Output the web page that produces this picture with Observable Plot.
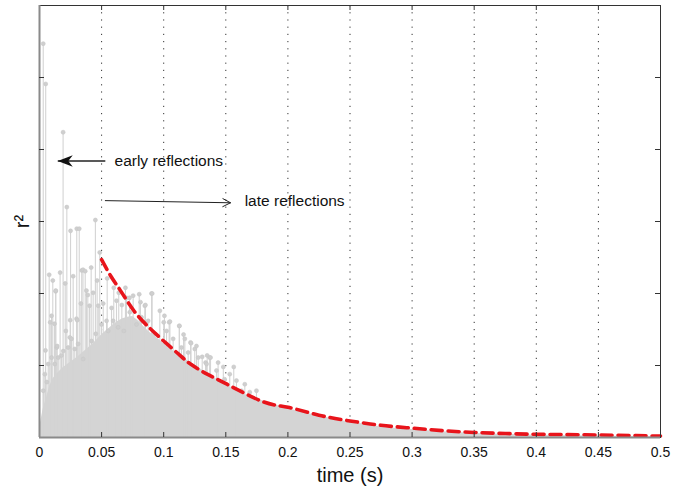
<!DOCTYPE html>
<html>
<head>
<meta charset="utf-8">
<script src="https://cdn.jsdelivr.net/npm/d3@7"></script>
<script src="https://cdn.jsdelivr.net/npm/@observablehq/plot@0.6"></script>
<style>
  html, body { margin: 0; padding: 0; background: #fff; }
  #chart { width: 684px; height: 486px; }
</style>
</head>
<body>
<div id="chart"></div>
<script>
// ---- data ----
const xTicks = [0, 0.05, 0.1, 0.15, 0.2, 0.25, 0.3, 0.35, 0.4, 0.45, 0.5];
const xTickLabels = ["0", "0.05", "0.1", "0.15", "0.2", "0.25", "0.3", "0.35", "0.4", "0.45", "0.5"];
const gridX = [0.05, 0.1, 0.15, 0.2, 0.25, 0.3, 0.35, 0.4, 0.45];
const yTicks = [1, 2, 3, 4, 5];

// individual visible stems (time, r^2)
const stemT = [0.003, 0.005, 0.0048, 0.0059, 0.0078, 0.0086, 0.0097, 0.0107, 0.0121, 0.013, 0.0131, 0.0139, 0.0142,
  0.0166, 0.0177, 0.019, 0.0207, 0.0212, 0.022, 0.0244, 0.0247, 0.025, 0.0271, 0.0298, 0.03, 0.0304, 0.032, 0.0333,
  0.034, 0.035, 0.0368, 0.0378, 0.0389, 0.0403, 0.0416, 0.0432, 0.045, 0.0464, 0.0473, 0.0485, 0.0513, 0.054, 0.0545,
  0.058, 0.0598, 0.062, 0.0638, 0.0663, 0.0692, 0.07, 0.0725, 0.0754, 0.0803, 0.0813, 0.0848, 0.0853, 0.0902, 0.0907,
  0.0969, 0.1, 0.1006, 0.1044, 0.105, 0.1125, 0.1127, 0.116, 0.117, 0.1216, 0.122, 0.125, 0.1264, 0.131, 0.1337,
  0.135, 0.137, 0.1377, 0.1438, 0.148, 0.149, 0.1564, 0.1626, 0.1693,
  // lower stems whose heads sit inside the grey mass
  0.0258, 0.0284, 0.0311, 0.0352, 0.0419, 0.0453, 0.0499, 0.0553, 0.0593, 0.0633, 0.0679, 0.0727, 0.0781,
  0.0821, 0.0875, 0.0928, 0.1023, 0.1076, 0.1143, 0.1197, 0.1278, 0.1345, 0.1425, 0.1532, 0.1586, 0.1653, 0.1747,
  0.003, 0.0043, 0.007, 0.0097, 0.0123, 0.0151, 0.0191, 0.0231];
const stemR = [5.47, 4.91, 1.21, 0.77, 2.26, 1.60, 1.69, 2.18, 1.58, 2.03, 2.04, 1.25, 1.27,
  2.29, 1.14, 4.24, 2.14, 1.48, 3.20, 1.39, 1.63, 2.87, 2.24, 1.65, 2.90, 1.63, 2.90, 1.86,
  2.32, 2.33, 2.31, 2.04, 1.98, 1.83, 2.36, 2.01, 3.02, 2.18, 1.83, 2.57, 1.86, 1.62, 2.21,
  1.80, 2.08, 1.90, 2.01, 1.84, 2.08, 1.94, 1.94, 1.97, 1.99, 1.88, 1.83, 1.84, 2.00, 2.00,
  1.76, 1.60, 1.69, 1.60, 1.61, 1.55, 1.55, 1.43, 1.37, 1.32, 1.31, 1.23, 1.27, 1.12, 1.04,
  1.14, 1.11, 1.11, 1.04, 0.98, 0.81, 0.98, 0.65, 0.63,
  1.37, 1.23, 1.30, 1.09, 1.34, 1.44, 1.57, 1.48, 1.62, 1.53, 1.48, 1.74, 1.57,
  1.67, 1.62, 1.44, 1.48, 1.37, 1.25, 1.18, 1.11, 1.02, 0.93, 0.88, 0.79, 0.74, 0.65,
  0.65, 0.88, 1.02, 1.11, 1.02, 1.11, 1.20, 1.25];

// dense part of the stems (upper envelope of the solid grey mass)
const envT = [0, 0.0008, 0.003, 0.0056, 0.008, 0.011, 0.015, 0.019, 0.023, 0.027, 0.031, 0.035, 0.039, 0.043, 0.047,
  0.051, 0.055, 0.059, 0.063, 0.067, 0.071, 0.075, 0.079, 0.0835, 0.0875, 0.0915, 0.0955, 0.0996, 0.1037, 0.1077,
  0.1117, 0.1157, 0.12, 0.1238, 0.1278, 0.1318, 0.136, 0.14, 0.144, 0.148, 0.1586, 0.172, 0.183, 0.19, 0.2, 0.21,
  0.22, 0.23, 0.24, 0.25, 0.26, 0.27, 0.28, 0.29, 0.3, 0.32, 0.34, 0.36, 0.38, 0.4, 0.43, 0.46, 0.5];
const envR = [0, 0.2, 0.4, 0.55, 0.7, 0.82, 0.9, 0.97, 1.02, 1.07, 1.12, 1.18, 1.24, 1.3, 1.37,
  1.44, 1.5, 1.56, 1.61, 1.65, 1.67, 1.68, 1.63, 1.55, 1.48, 1.42, 1.37, 1.31, 1.25, 1.20,
  1.15, 1.11, 1.06, 1.02, 0.97, 0.93, 0.88, 0.84, 0.79, 0.75, 0.65, 0.55, 0.49, 0.45, 0.40, 0.36,
  0.32, 0.28, 0.25, 0.21, 0.19, 0.16, 0.14, 0.12, 0.11, 0.085, 0.065, 0.05, 0.04, 0.032, 0.024, 0.018, 0.012];

// red dashed decay curve
const fitT = [0.05, 0.0575, 0.0652, 0.076, 0.0875, 0.1, 0.1125, 0.1216, 0.135, 0.151, 0.1795, 0.2, 0.225, 0.25,
  0.275, 0.3, 0.325, 0.35, 0.375, 0.4, 0.425, 0.45, 0.475, 0.5];
const fitR = [2.47, 2.24, 2.04, 1.76, 1.54, 1.34, 1.15, 1.02, 0.88, 0.74, 0.50, 0.42, 0.31, 0.23,
  0.17, 0.13, 0.095, 0.07, 0.055, 0.045, 0.04, 0.035, 0.027, 0.02];

// annotations
const earlyArrow = {x1: 0.053, y1: 3.84, x2: 0.0147, y2: 3.84};
const lateArrow = {x1: 0.053, y1: 3.29, x2: 0.1538, y2: 3.26};
const labels = [
  {x: 0.0604, y: 3.84, text: "early reflections"},
  {x: 0.1652, y: 3.29, text: "late reflections"}
];

// ---- build tables ----
const stems = stemT.map((t, i) => ({t, r: stemR[i]}));
const env = envT.map((t, i) => ({t, r: envR[i]}));
const fit = fitT.map((t, i) => ({t, r: fitR[i]}));
const labelMap = new Map(xTicks.map((v, i) => [v, xTickLabels[i]]));

const W = 684, H = 486, mL = 39, mR = 24, mT = 5, mB = 49;
const plotW = W - mL - mR, plotH = H - mT - mB;
const grey = "#d4d4d4";
const tickLen = 5;

// filled arrow head pointing left, tip at the anchor point
const arrowHead = {
  draw(ctx, size) {
    const r = Math.sqrt(size / Math.PI);
    ctx.moveTo(0, 0);
    ctx.lineTo(r, -r * 0.38);
    ctx.lineTo(r * 0.7, 0);
    ctx.lineTo(r, r * 0.38);
    ctx.closePath();
  }
};

const chart = Plot.plot({
  width: W, height: H,
  marginLeft: mL, marginRight: mR, marginTop: mT, marginBottom: mB,
  x: {domain: [0, 0.5]},
  y: {domain: [0, 6], axis: null},
  style: {fontFamily: "'Liberation Sans', Arial, sans-serif", background: "#fff", color: "#111"},
  marks: [
    Plot.ruleX(gridX, {stroke: "#333", strokeWidth: 1, strokeDasharray: "1.2,6"}),
    Plot.areaY(env, {x: "t", y: "r", fill: grey}),
    Plot.ruleX(stems, {x: "t", y1: 0, y2: "r", stroke: grey, strokeWidth: 1.1}),
    Plot.dot(stems, {x: "t", y: "r", r: 2, fill: "#cfcfcf", stroke: "#c8c8c8", strokeWidth: 0.6}),
    Plot.line(fit, {x: "t", y: "r", stroke: "#e8141b", strokeWidth: 3.6, strokeDasharray: "11,6", curve: "natural"}),
    Plot.frame({stroke: "#333", strokeWidth: 1}),
    Plot.ruleX([0], {stroke: "#8a8a8a", strokeWidth: 2}),
    Plot.ruleY([0], {stroke: "#8a8a8a", strokeWidth: 2}),
    // inward ticks
    Plot.tickY(yTicks, {y: d => d, stroke: "#333", insetRight: plotW - tickLen}),
    Plot.tickY(yTicks, {y: d => d, stroke: "#333", insetLeft: plotW - tickLen}),
    Plot.tickX(gridX, {x: d => d, stroke: "#333", insetBottom: plotH - tickLen}),
    Plot.tickX(gridX, {x: d => d, stroke: "#333", insetTop: plotH - tickLen}),
    Plot.axisX(xTicks, {tickSize: 0, tickPadding: 10, fontSize: 14, label: null, tickFormat: d => labelMap.get(d)}),
    Plot.text(["time (s)"], {frameAnchor: "bottom", lineAnchor: "middle", dy: 38, fontSize: 20, fill: "#111"}),
    Plot.text(["r²"], {frameAnchor: "left", textAnchor: "middle", lineAnchor: "middle", dx: -17, rotate: -90, fontSize: 20, fill: "#111"}),
    // annotations
    Plot.link([earlyArrow], {x1: "x1", y1: "y1", x2: "x2", y2: "y2", stroke: "#222", strokeWidth: 1.3}),
    Plot.dot([earlyArrow], {x: "x2", y: "y2", symbol: arrowHead, r: 15, fill: "#111", stroke: "none"}),
    Plot.arrow([lateArrow], {x1: "x1", y1: "y1", x2: "x2", y2: "y2", stroke: "#222", strokeWidth: 1, headLength: 13, headAngle: 55}),
    Plot.text(labels, {x: "x", y: "y", text: "text", textAnchor: "start", fontSize: 15.5, fill: "#111"})
  ]
});
document.getElementById("chart").appendChild(chart);
</script>
</body>
</html>
